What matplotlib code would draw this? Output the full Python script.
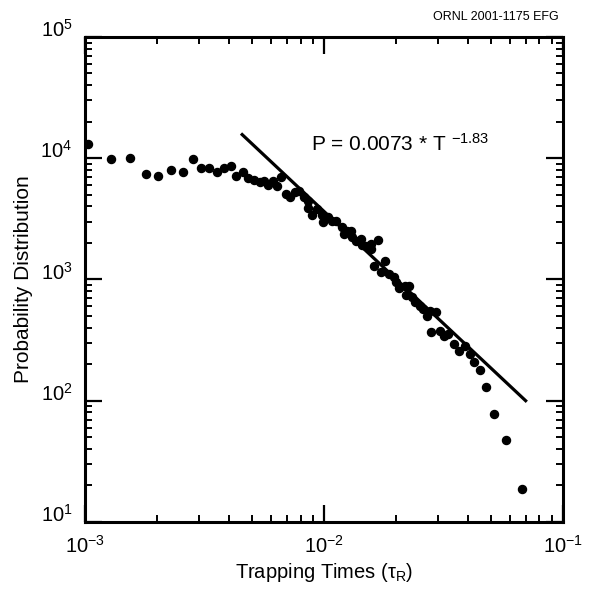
import numpy as np
import matplotlib
matplotlib.use("Agg")
import matplotlib.pyplot as plt
from matplotlib.ticker import LogLocator, FuncFormatter, NullFormatter

plt.rcParams['font.family'] = ['Liberation Sans', 'DejaVu Sans']
plt.rcParams['mathtext.fontset'] = 'custom'
plt.rcParams['mathtext.rm'] = 'Liberation Sans'
plt.rcParams['mathtext.it'] = 'Liberation Sans:italic'
plt.rcParams['mathtext.bf'] = 'Liberation Sans:bold'

# trapping time vs probability distribution
##################################################
tau = [1.03e-3, 1.28e-3, 1.54e-3, 1.80e-3, 2.03e-3, 2.30e-3, 2.56e-3, 2.82e-3,
       3.07e-3, 3.32e-3, 3.58e-3, 3.83e-3, 4.10e-3, 4.30e-3, 4.60e-3, 4.82e-3,
       5.11e-3, 5.41e-3, 5.62e-3, 5.84e-3, 6.13e-3, 6.37e-3, 6.62e-3, 6.95e-3,
       7.21e-3, 7.57e-3, 7.87e-3, 8.25e-3, 8.58e-3, 8.58e-3, 8.91e-3, 9.35e-3,
       9.81e-3, 9.90e-3, 1.04e-2, 1.08e-2, 1.13e-2, 1.19e-2, 1.21e-2, 1.25e-2,
       1.30e-2, 1.31e-2, 1.36e-2, 1.43e-2, 1.44e-2, 1.50e-2, 1.57e-2, 1.58e-2,
       1.68e-2, 1.63e-2, 1.74e-2, 1.80e-2, 1.87e-2, 1.96e-2, 2.01e-2, 2.07e-2,
       2.18e-2, 2.28e-2, 2.20e-2, 2.33e-2, 2.42e-2, 2.54e-2, 2.61e-2, 2.71e-2,
       2.79e-2, 2.96e-2, 2.82e-2, 3.07e-2, 3.19e-2, 3.32e-2, 3.52e-2, 3.69e-2,
       3.91e-2, 4.10e-2, 4.26e-2, 4.51e-2, 4.78e-2, 5.16e-2, 5.79e-2, 6.75e-2]
prob = [13200, 9770, 10100, 7480, 7200, 8070, 7770, 9770,
        8230, 8380, 7770, 8230, 8710, 7200, 7770, 6930,
        6670, 6420, 6540, 6060, 6540, 5950, 7060, 5110,
        4820, 5310, 5410, 4820, 4470, 3910, 3420, 3840,
        3420, 2990, 3300, 3050, 3050, 2720, 2380, 2520,
        2520, 2250, 2080, 2160, 1930, 1890, 1970, 1790,
        2120, 1290, 1150, 1420, 1110, 1050, 953, 851,
        883, 883, 745, 716, 651, 604, 570, 499,
        548, 538, 367, 374, 340, 354, 292, 256,
        281, 242, 207, 178, 129, 78, 47.7, 18.8]

# power-law fit line end points
fit_x = [0.0045, 0.0708]
fit_y = [16000, 98]
##################################################

fig = plt.figure(figsize=(5.97, 5.90), dpi=100)
ax = fig.add_axes([0.1424, 0.1153, 0.8, 0.8220])

ax.plot(fit_x, fit_y, color='black', lw=2.3, solid_capstyle='butt')
ax.plot(tau, prob, 'o', color='black', ms=5.8, mec='black')

ax.set_xscale('log')
ax.set_yscale('log')
ax.set_xlim(1e-3, 1e-1)
ax.set_ylim(10, 1e5)

fmt = FuncFormatter(lambda v, p: r'$10^{%d}$' % int(round(np.log10(v))))
ax.xaxis.set_major_locator(LogLocator(base=10, numticks=10))
ax.yaxis.set_major_locator(LogLocator(base=10, numticks=10))
ax.xaxis.set_minor_locator(LogLocator(base=10, subs=np.arange(2, 10), numticks=20))
ax.yaxis.set_minor_locator(LogLocator(base=10, subs=np.arange(2, 10), numticks=20))
ax.xaxis.set_major_formatter(fmt)
ax.yaxis.set_major_formatter(fmt)
ax.xaxis.set_minor_formatter(NullFormatter())
ax.yaxis.set_minor_formatter(NullFormatter())

ax.tick_params(which='both', direction='in', top=True, right=True, colors='black')
ax.tick_params(which='major', length=12, width=1.6, labelsize=14.5)
ax.tick_params(which='minor', length=5, width=1.4)
ax.tick_params(axis='x', which='major', pad=9)
ax.tick_params(axis='y', which='major', pad=9)
for lbl in ax.get_yticklabels():
    lbl.set_verticalalignment('baseline')
for s in ax.spines.values():
    s.set_linewidth(2.2)

ax.set_xlabel(r'Trapping Times (τ$_{\rm R}$)', fontsize=14.5, labelpad=3)
ax.set_ylabel('Probability Distribution', fontsize=15, labelpad=5)

ax.text(0.473, 0.766, r'P = 0.0073 * T $^{-1.83}$', transform=ax.transAxes,
        fontsize=15, va='baseline', ha='left')
fig.text(0.935, 0.971, 'ORNL 2001-1175 EFG', fontsize=9, ha='right', va='center')

fig.savefig('out.png', dpi=100)
